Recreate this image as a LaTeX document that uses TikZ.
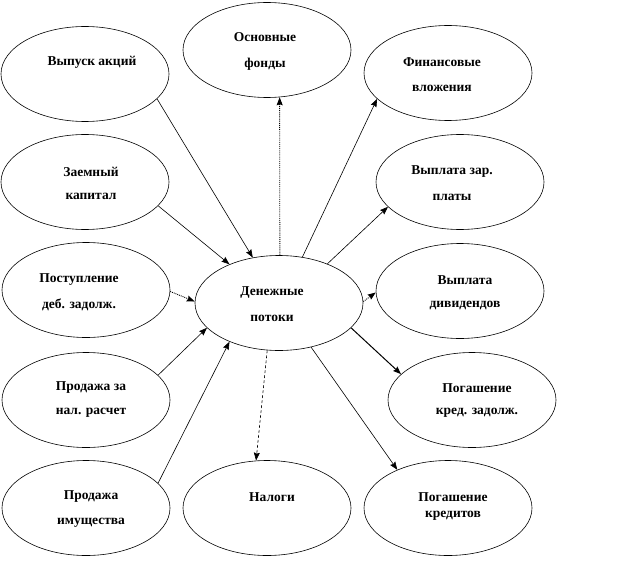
\documentclass[tikz,border=0pt]{standalone}
\usepackage{fontspec}
\setmainfont{Liberation Serif}
\usetikzlibrary{shapes.geometric,arrows.meta}
\begin{document}
\begin{tikzpicture}[x=1pt,y=-1pt,
  oval/.style={draw,ellipse,line width=0.6pt,minimum width=168pt,minimum height=95pt,inner sep=0pt},
  lbl/.style={font=\bfseries\fontsize{13.5}{15}\selectfont,inner sep=0pt,anchor=center},
  conn/.style={line width=0.6pt,-{Stealth[length=8pt,width=6pt,inset=1pt,sep=0pt]}},
  dotconn/.style={conn,line width=0.9pt,densely dotted}]
\useasboundingbox (0,0) rectangle (617,580);
% ellipses
\node[oval] (vyp) at (85,74) {};
\node[oval] (osn) at (267,50) {};
\node[oval] (fin) at (448,73) {};
\node[oval] (zaem) at (85,182) {};
\node[oval] (zar) at (460,182) {};
\node[oval] (post) at (86,290) {};
\node[oval] (den) at (279,303) {};
\node[oval] (div) at (460,291) {};
\node[oval] (prn) at (86,400) {};
\node[oval] (krz) at (472,400) {};
\node[oval] (pri) at (86,508) {};
\node[oval] (nal) at (267,508) {};
\node[oval] (krd) at (448,508) {};
% labels
\node[lbl] (t1) at (92,62) {Выпуск акций};
\node[lbl] (t2a) at (265,37) {Основные};
\node[lbl] (t2b) at (265,64) {фонды};
\node[lbl] (t3a) at (442,62) {Финансовые};
\node[lbl] (t3b) at (442,88) {вложения};
\node[lbl] (t4a) at (91,172) {Заемный};
\node[lbl] (t4b) at (91,196) {капитал};
\node[lbl] (t5a) at (452,172) {Выплата зар.};
\node[lbl] (t5b) at (452,197) {платы};
\node[lbl] (t6a) at (79,280) {Поступление};
\node[lbl] (t6b) at (79,305) {деб. задолж.};
\node[lbl] (t7a) at (272,293) {Денежные};
\node[lbl] (t7b) at (272,318) {потоки};
\node[lbl] (t8a) at (465,280) {Выплата};
\node[lbl] (t8b) at (465,305) {дивидендов};
\node[lbl] (t9a) at (91,388) {Продажа за};
\node[lbl] (t9b) at (91,413) {нал. расчет};
\node[lbl] (t10a) at (477,388) {Погашение};
\node[lbl] (t10b) at (477,413) {кред. задолж.};
\node[lbl] (t11a) at (91,497) {Продажа};
\node[lbl] (t11b) at (91,523) {имущества};
\node[lbl] (t12) at (272,497) {Налоги};
\node[lbl] (t13a) at (453,497) {Погашение};
\node[lbl] (t13b) at (453,516) {кредитов};
% connectors (inflows)
\draw[conn] (vyp.-19) -- (den.120);
\draw[conn] (zaem.-18) -- (den.142);
\draw[dotconn] (post.-1) -- (den.179);
\draw[conn] (prn.19) -- (den.199);
\draw[conn] (pri.19) -- (den.218);
% connectors (outflows)
\draw[dotconn] (den.89) -- (osn.-75);
\draw[conn] (den.63) -- (fin.200);
\draw[conn] (den.39) -- (zar.199);
\draw[dotconn] (den.1) -- (div.181);
\draw[conn,line width=1pt] (den.-19) -- (krz.160);
\draw[conn] (den.-54) -- (krd.143);
\draw[conn,densely dashed] (den.-104) -- (nal.103);
\end{tikzpicture}
\end{document}
